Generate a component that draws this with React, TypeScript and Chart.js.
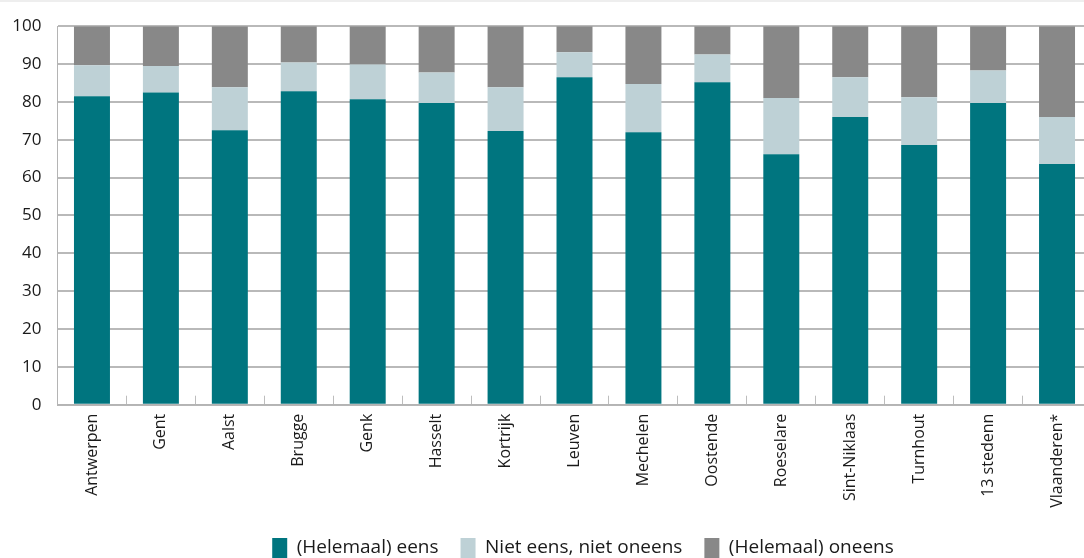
import { useEffect, useRef } from "react";
import { Chart, registerables } from "chart.js";

Chart.register(...registerables);

const categories = [
  "Antwerpen", "Gent", "Aalst", "Brugge", "Genk", "Hasselt", "Kortrijk", "Leuven",
  "Mechelen", "Oostende", "Roeselare", "Sint-Niklaas", "Turnhout", "13 stedenn", "Vlaanderen*",
];
const seriesLabels = ["(Helemaal) eens", "Niet eens, niet oneens", "(Helemaal) oneens"];
const eens = [81.5, 82.5, 72.5, 82.8, 80.7, 79.7, 72.3, 86.5, 72.0, 85.2, 66.2, 76.0, 68.6, 79.7, 63.6];
const neutraal = [8.2, 7.0, 11.4, 7.6, 9.2, 8.1, 11.6, 6.6, 12.7, 7.3, 14.8, 10.5, 12.6, 8.6, 12.4];
const oneens = [10.3, 10.5, 16.1, 9.6, 10.1, 12.2, 16.1, 6.9, 15.3, 7.5, 19.0, 13.5, 18.8, 11.7, 24.0];
const seriesColors = ["#00757f", "#bed1d6", "#888888"];
const yMin = 0;
const yMax = 100;
const yStep = 10;

export default function App() {
  const ref = useRef<HTMLCanvasElement | null>(null);

  useEffect(() => {
    if (!ref.current) return;
    const chart = new Chart(ref.current, {
      type: "bar",
      data: {
        labels: categories,
        datasets: [eens, neutraal, oneens].map((d, i) => ({
          label: seriesLabels[i],
          data: d,
          backgroundColor: seriesColors[i],
          borderWidth: 0,
          barPercentage: 1,
          categoryPercentage: 0.522,
        })),
      },
      options: {
        responsive: false,
        animation: false,
        devicePixelRatio: 1,
        layout: { padding: { left: 0, right: 0, top: 24.7, bottom: 0 } },
        plugins: {
          tooltip: { enabled: false },
          legend: {
            position: "bottom",
            labels: {
              boxWidth: 15,
              boxHeight: 20,
              padding: 22,
              color: "#1a1a1a",
              font: { family: '"Open Sans", sans-serif', size: 19 },
            },
          },
        },
        scales: {
          x: {
            stacked: true,
            offset: true,
            afterFit: (s: any) => {
              s.height = 111.3;
              s.paddingLeft = 0;
              s.paddingRight = 74.5;
            },
            grid: {
              offset: true,
              drawOnChartArea: false,
              drawTicks: true,
              tickLength: -9,
              color: "#bdbdbd",
              lineWidth: 1,
            },
            border: { display: true, color: "#b4b4b4", width: 1.5 },
            ticks: {
              autoSkip: false,
              minRotation: 90,
              maxRotation: 90,
              padding: 18,
              color: "#1a1a1a",
              font: { family: '"Open Sans", sans-serif', size: 16 },
            },
          },
          y: {
            stacked: true,
            min: yMin,
            max: yMax,
            afterFit: (s: any) => {
              s.width = 57.5;
            },
            grid: { color: "#b9b9b9", lineWidth: 2, drawTicks: false },
            border: { display: true, color: "#b4b4b4", width: 1 },
            ticks: {
              stepSize: yStep,
              padding: 16,
              color: "#1a1a1a",
              font: { family: '"Open Sans", sans-serif', size: 17 },
            },
          },
        },
      },
    });
    return () => chart.destroy();
  }, []);

  return (
    <div
      style={{
        position: "fixed",
        left: 0,
        top: 0,
        width: 1084,
        height: 558,
        overflow: "hidden",
        background: "#ffffff",
      }}
    >
      <div style={{ position: "absolute", left: 0, top: 0, width: 1166, height: 568 }}>
        <canvas ref={ref} width={1166} height={568} />
      </div>
      <div style={{ position: "absolute", left: 0, top: 0, width: 1084, height: 2, background: "#eeeeee" }} />
    </div>
  );
}
